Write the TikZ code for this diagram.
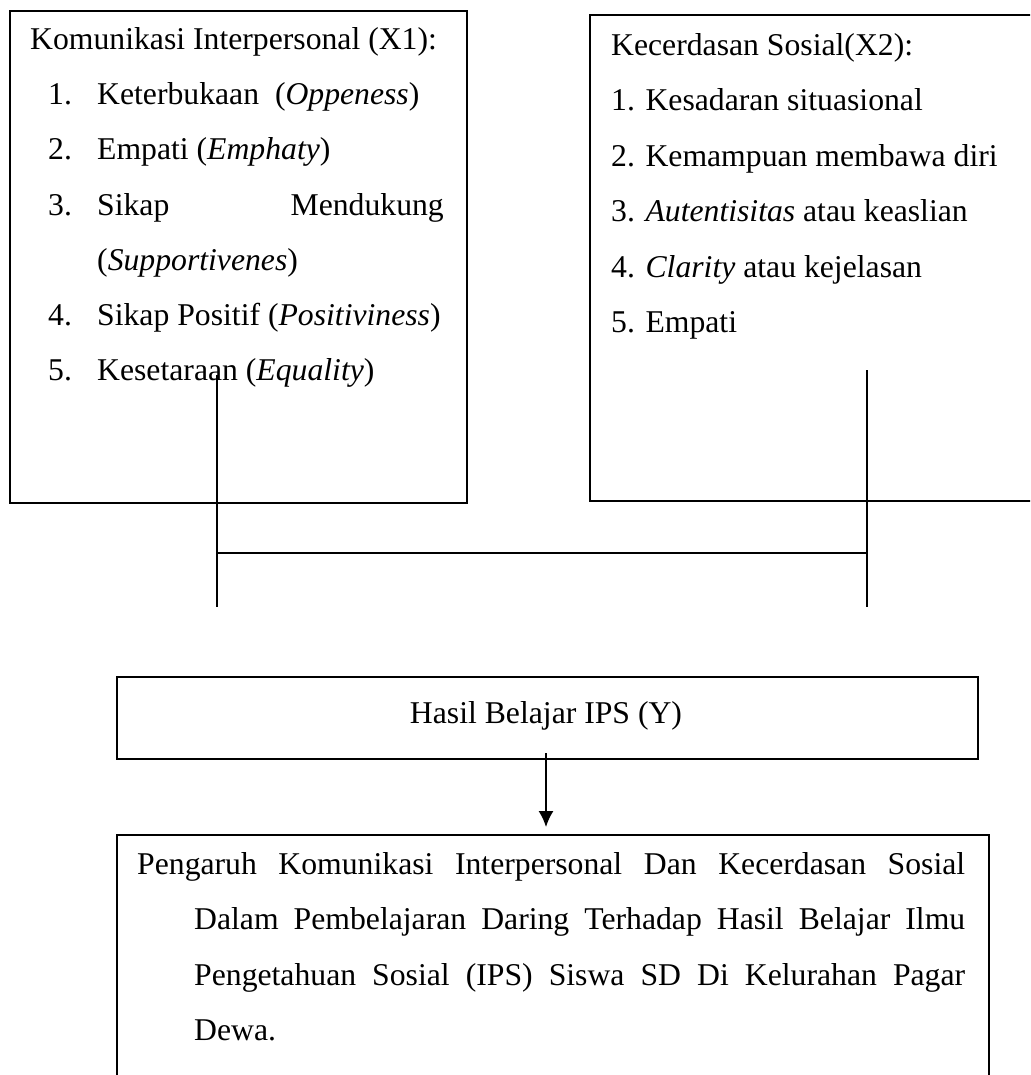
\documentclass[tikz,border=0pt]{standalone}
\usepackage{fontspec}
\setmainfont{Liberation Serif}
\usetikzlibrary{arrows.meta}
\tikzset{%
  >={Latex[width=15pt,length=16pt]},
  % Gaya untuk kotak dan teks:
           kotak/.style = {rectangle, draw=black, line width=2pt,
                           anchor=north west, inner sep=0pt},
            teks/.style = {anchor=base west, inner sep=0pt,
                           font=\fontsize{31.7}{55}\selectfont},
           garis/.style = {line width=1.6pt},
}

\begin{document}
\begin{tikzpicture}[x=1pt, y=-1pt]
  \useasboundingbox (0,0) rectangle (1030,1075);
  \clip (0,0) rectangle (1030,1075);
  % Kotak (posisi, ukuran)

  \node (x1box)			[kotak, minimum width=457pt, minimum height=492pt] at (9,10) {};
  \node (x2box)			[kotak, minimum width=460pt, minimum height=486pt] at (589,14) {};
  \node (hasil)			[kotak, minimum width=861pt, minimum height=82pt] at (116,676) {};
  \node (pengaruh)		[kotak, minimum width=872pt, minimum height=280pt] at (116,834) {};

  % Teks X1
  \node (x1judul)		[teks] at (30,50) {Komunikasi Interpersonal (X1):};
  \node (x1n1)			[teks] at (48,104.5) {1.};
  \node (x1a)			[teks] at (97,104.5) {Keterbukaan~ (\textit{Oppeness})};
  \node (x1n2)			[teks] at (48,160) {2.};
  \node (x1b)			[teks] at (97,160) {Empati (\textit{Emphaty})};
  \node (x1n3)			[teks] at (48,215) {3.};
  \node (x1c)			[teks] at (97,215) {Sikap};
  \node (x1c2)			[teks, anchor=base east] at (444,215) {Mendukung};
  \node (x1c3)			[teks] at (97,270) {(\textit{Supportivenes})};
  \node (x1n4)			[teks] at (48,325) {4.};
  \node (x1d)			[teks] at (97,325) {Sikap Positif (\textit{Positiviness})};
  \node (x1n5)			[teks] at (48,380.5) {5.};
  \node (x1e)			[teks] at (97,380.5) {Kesetaraan (\textit{Equality})};

  % Teks X2
  \node (x2judul)		[teks] at (611,56) {Kecerdasan Sosial(X2):};
  \node (x2a)			[teks] at (611,111) {1. Kesadaran situasional};
  \node (x2b)			[teks] at (611,166.5) {2. Kemampuan membawa diri};
  \node (x2c)			[teks] at (611,222) {3. \textit{Autentisitas} atau keaslian};
  \node (x2d)			[teks] at (611,277) {4. \textit{Clarity} atau kejelasan};
  \node (x2e)			[teks] at (611,332.5) {5. Empati};

  % Teks Y dan judul
  \node (hasilteks)		[teks, anchor=base] at (546,723) {Hasil Belajar IPS (Y)};
  \node (judul1)		[teks] at (137,874) {\makebox[828pt][s]{Pengaruh Komunikasi Interpersonal Dan Kecerdasan Sosial}};
  \node (judul2)		[teks] at (194,929.5) {\makebox[771pt][s]{Dalam Pembelajaran Daring Terhadap Hasil Belajar Ilmu}};
  \node (judul3)		[teks] at (194,985) {\makebox[771pt][s]{Pengetahuan Sosial (IPS) Siswa SD Di Kelurahan Pagar}};
  \node (judul4)		[teks] at (194,1040) {Dewa.};

  % Titik sambungan
  \coordinate (kiriatas)	at (217,375);
  \coordinate (kiribawah)	at (217,607);
  \coordinate (kananatas)	at (867,370);
  \coordinate (kananbawah)	at (867,607);
  \coordinate (kiri)		at (217,553);
  \coordinate (kanan)		at (867,553);

 \draw[garis]				(kiriatas) -- (kiribawah);
 \draw[garis]				(kananatas) -- (kananbawah);
 \draw[garis]				(kiri) -- (kanan);
 \draw[garis]				(hasil.north -| 546,0) -- (hasil.north -| 546,0 |- kiri);
 \draw[garis, ->]			([yshift=7pt]hasil.south -| 546,0) -- ([yshift=7pt]pengaruh.north -| 546,0);

  \end{tikzpicture}
\end{document}
